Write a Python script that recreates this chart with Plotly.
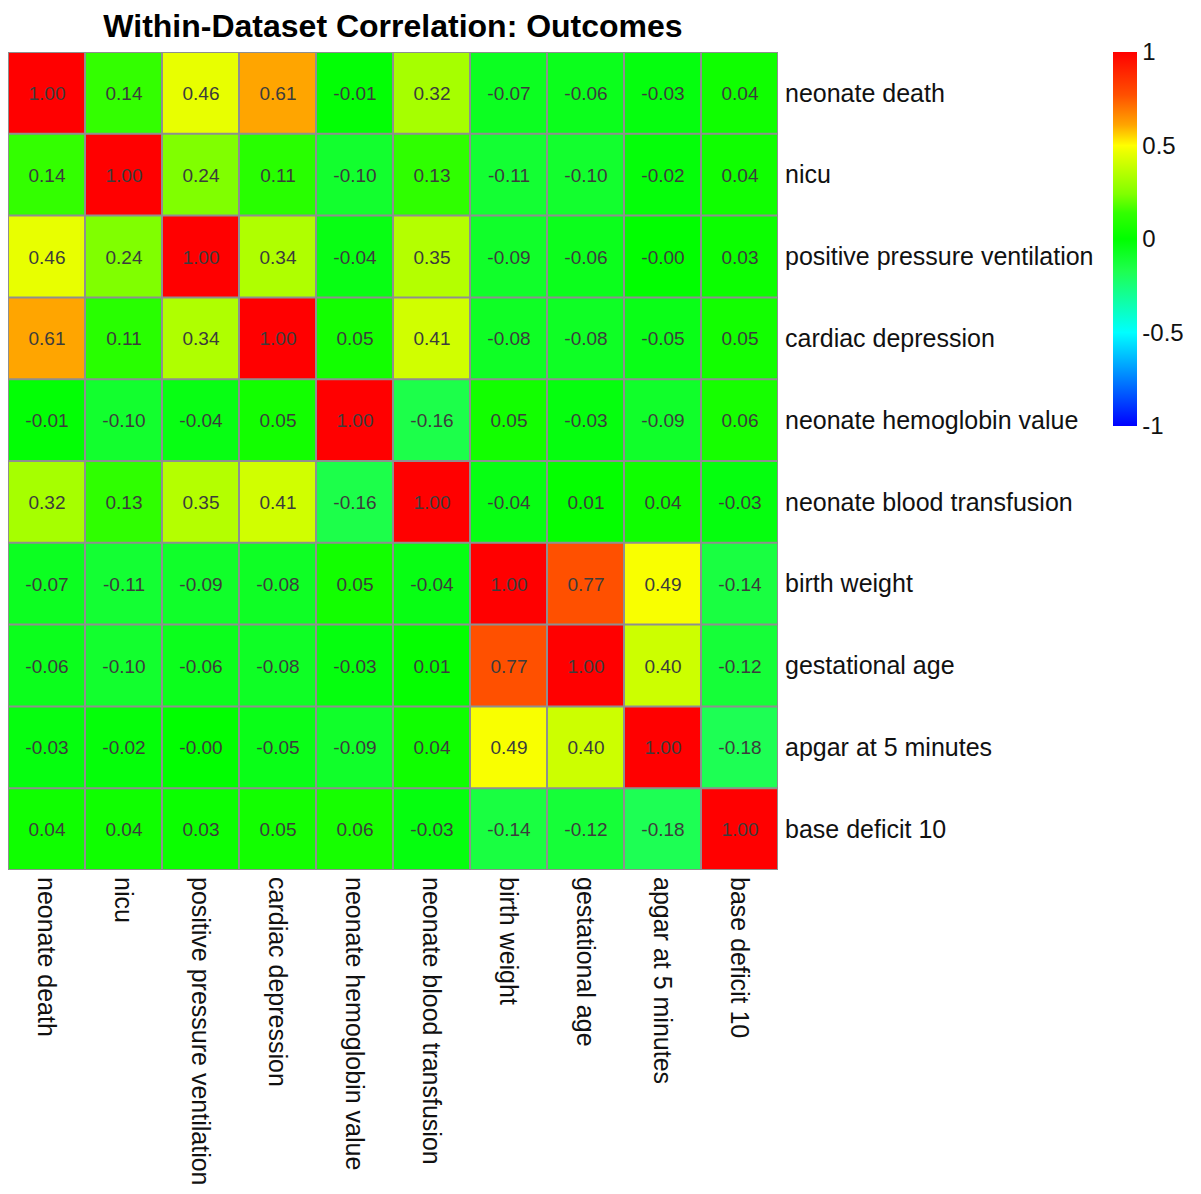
import plotly.graph_objects as go

labels = ["neonate death", "nicu", "positive pressure ventilation", "cardiac depression",
          "neonate hemoglobin value", "neonate blood transfusion", "birth weight",
          "gestational age", "apgar at 5 minutes", "base deficit 10"]

row_neonate_death = [1.00, 0.14, 0.46, 0.61, -0.01, 0.32, -0.07, -0.06, -0.03, 0.04]
row_nicu = [0.14, 1.00, 0.24, 0.11, -0.10, 0.13, -0.11, -0.10, -0.02, 0.04]
row_ppv = [0.46, 0.24, 1.00, 0.34, -0.04, 0.35, -0.09, -0.06, -0.001, 0.03]
row_cardiac = [0.61, 0.11, 0.34, 1.00, 0.05, 0.41, -0.08, -0.08, -0.05, 0.05]
row_hemoglobin = [-0.01, -0.10, -0.04, 0.05, 1.00, -0.16, 0.05, -0.03, -0.09, 0.06]
row_transfusion = [0.32, 0.13, 0.35, 0.41, -0.16, 1.00, -0.04, 0.01, 0.04, -0.03]
row_birth_weight = [-0.07, -0.11, -0.09, -0.08, 0.05, -0.04, 1.00, 0.77, 0.49, -0.14]
row_gest_age = [-0.06, -0.10, -0.06, -0.08, -0.03, 0.01, 0.77, 1.00, 0.40, -0.12]
row_apgar = [-0.03, -0.02, -0.001, -0.05, -0.09, 0.04, 0.49, 0.40, 1.00, -0.18]
row_base_deficit = [0.04, 0.04, 0.03, 0.05, 0.06, -0.03, -0.14, -0.12, -0.18, 1.00]

z = [row_neonate_death, row_nicu, row_ppv, row_cardiac, row_hemoglobin,
     row_transfusion, row_birth_weight, row_gest_age, row_apgar, row_base_deficit]

cb_tickvals = [1, 0.5, 0, -0.5, -1]
cb_ticktext = ["1", "0.5", "0", "-0.5", "-1"]

text = [[f"{v:.2f}" for v in row] for row in z]
n = len(labels)
idx = list(range(n))

# palette stops (value -> colour), value in [-1, 1]
palette_values = [-1.0, -0.5, -0.17, 0.0, 0.14, 0.24, 0.46, 0.5, 0.61, 0.77, 1.0]
palette_colors = ["#0000FF", "#00FFFF", "#1EFF4F", "#00FF00", "#33FF00", "#80FF00",
                  "#E8FF00", "#FFFF00", "#FFA500", "#FF5000", "#FF0000"]
colorscale = [[(v + 1) / 2, c] for v, c in zip(palette_values, palette_colors)]

W, H = 1185, 1178  # page has 8px body margin

fig = go.Figure(go.Heatmap(
    z=z, x=idx, y=idx, text=text, texttemplate="%{text}",
    textfont=dict(size=19, color="#3c3c3c", family="Liberation Sans, Arial"),
    colorscale=colorscale, zmin=-1, zmax=1,
    colorbar=dict(x=1105 / 770, xanchor="left", xpad=0, y=1, yanchor="top", ypad=0,
                  len=376 / 822, lenmode="fraction", thickness=24, outlinewidth=0,
                  tickvals=cb_tickvals, ticktext=cb_ticktext, ticks="",
                  tickfont=dict(size=24, color="#111111", family="Liberation Sans, Arial")),
))

shapes = []
for i in range(n + 1):
    shapes.append(dict(type="line", xref="x", yref="y", x0=i - 0.5, x1=i - 0.5,
                       y0=-0.5, y1=n - 0.5, line=dict(color="#8f8f8f", width=2)))
    shapes.append(dict(type="line", xref="x", yref="y", y0=i - 0.5, y1=i - 0.5,
                       x0=-0.5, x1=n - 0.5, line=dict(color="#8f8f8f", width=2)))

fig.update_layout(
    width=W, height=H,
    margin=dict(l=0, r=W - 770, t=44, b=H - 44 - 822),
    plot_bgcolor="white", paper_bgcolor="white",
    font=dict(family="Liberation Sans, Arial", color="#111111"),
    title=dict(text="<b>Within-Dataset Correlation: Outcomes</b>",
               font=dict(size=32, color="#000000", family="Liberation Sans, Arial"),
               x=0.5, xref="paper", xanchor="center",
               y=1 - 18 / H, yref="container", yanchor="middle"),
    xaxis=dict(tickvals=idx, ticktext=labels, tickangle=90, ticks="",
               showgrid=False, zeroline=False, range=[-0.5, n - 0.5],
               tickfont=dict(size=25, color="#111111"), ticklabelstandoff=6),
    yaxis=dict(tickvals=idx, ticktext=labels, side="right", ticks="",
               showgrid=False, zeroline=False, range=[n - 0.5, -0.5],
               tickfont=dict(size=25, color="#111111"), ticklabelstandoff=6),
    shapes=shapes,
)

fig.write_html("out.html")
